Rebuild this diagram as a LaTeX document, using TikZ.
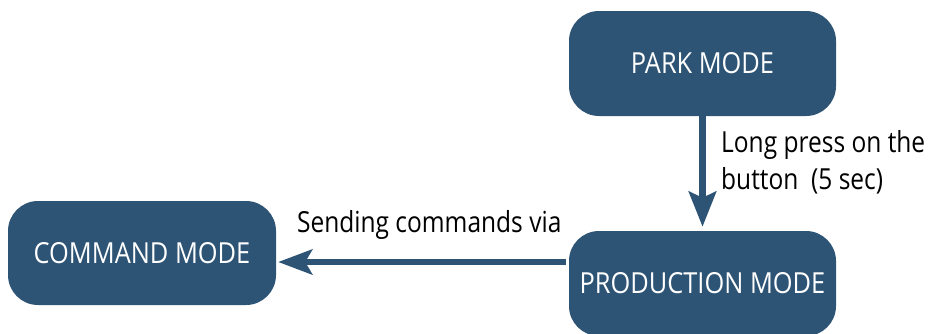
\documentclass[tikz,border=0pt]{standalone}
\usepackage{fontspec}
\setmainfont{Open Sans}
\newfontfamily\boxfont{Open Sans}[FakeStretch=0.875]
\newfontfamily\lblfont{Open Sans}[FakeStretch=0.845]
\usetikzlibrary{arrows.meta}
\definecolor{boxblue}{HTML}{2E5475}
\tikzset{
  modebox/.style={fill=boxblue, draw=none, rounded corners=30pt, minimum width=267pt, minimum height=105pt, inner sep=0pt, text=white, font=\boxfont\fontsize{29}{34}\selectfont},
  flow/.style={draw=boxblue, line width=7pt, -{Stealth[length=35pt, width=27pt, inset=6pt]}},
  lbl/.style={inner sep=0pt, anchor=base west, font=\lblfont\fontsize{29}{34}\selectfont, text=black}
}
\begin{document}
\begin{tikzpicture}[x=1pt,y=-1pt]
\useasboundingbox (0,0) rectangle (928,333);
\clip (0,0) rectangle (928,333);
\node[modebox] (park) at (702.5,63.5) {PARK MODE};
\node[modebox] (prod) at (702.5,283.5) {PRODUCTION MODE};
\node[modebox, minimum width=268pt, minimum height=104pt] (cmd) at (142,253) {COMMAND MODE};
\coordinate (v2) at ([yshift=4pt]prod.north);
\draw[flow] ([yshift=2pt]park.south) -- (v2);
\coordinate (h1) at ([xshift=-3pt,yshift=21.5pt]prod.west);
\coordinate (h2) at ([xshift=2pt]cmd.east |- h1);
\draw[flow, line width=6pt, -{Stealth[length=34pt, width=25pt, inset=7pt]}] (h1) -- (h2);
\node[lbl] (l1) at (721,152) {Long press on the};
\node[lbl] (l2) at (721,189) {button\ \ (5 sec)};
\node[lbl] (l3) at (297,232) {Sending commands via};
\end{tikzpicture}
\end{document}
